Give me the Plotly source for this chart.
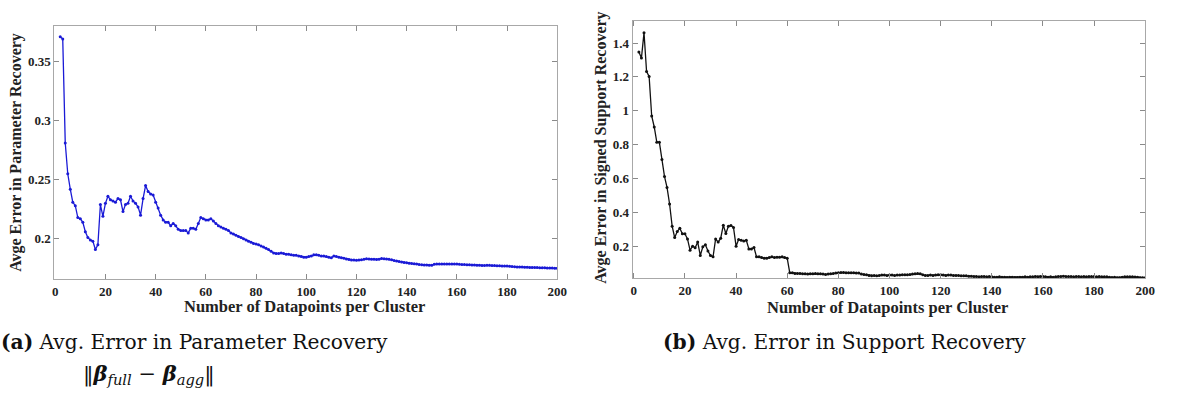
import plotly.graph_objects as go

# ---------------- data ----------------
x_vals = list(range(2, 201))

param_err = [
    0.371, 0.369, 0.281, 0.255, 0.242, 0.231, 0.228, 0.218, 0.217, 0.214,   # 2-11
    0.206, 0.201, 0.199, 0.198, 0.191, 0.195, 0.229, 0.219, 0.230, 0.236,   # 12-21
    0.233, 0.232, 0.231, 0.234, 0.233, 0.223, 0.229, 0.230, 0.236, 0.232,   # 22-31
    0.230, 0.227, 0.220, 0.234, 0.245, 0.240, 0.238, 0.237, 0.231, 0.226,   # 32-41
    0.220, 0.216, 0.214, 0.214, 0.211, 0.213, 0.211, 0.208, 0.207, 0.207,   # 42-51
    0.207, 0.205, 0.209, 0.209, 0.208, 0.213, 0.218, 0.217, 0.216, 0.216,   # 52-61
    0.217, 0.215, 0.213, 0.211, 0.210, 0.209, 0.208, 0.207, 0.205, 0.204,   # 62-71
    0.203, 0.202, 0.201, 0.200, 0.199, 0.198, 0.197, 0.196, 0.1955, 0.195,  # 72-81
    0.194, 0.193, 0.192, 0.191, 0.1895, 0.188, 0.1875, 0.1875, 0.188, 0.1875,  # 82-91
    0.187, 0.187, 0.1865, 0.186, 0.186, 0.1855, 0.185, 0.1845, 0.1845, 0.185,  # 92-101
    0.1855, 0.1865, 0.1865, 0.186, 0.1855, 0.1855, 0.185, 0.1845, 0.184, 0.1855,  # 102-111
    0.185, 0.1845, 0.184, 0.1835, 0.183, 0.1825, 0.182, 0.182, 0.1818, 0.182,  # 112-121
    0.1822, 0.1828, 0.1832, 0.183, 0.1828, 0.1826, 0.1824, 0.1828, 0.1834, 0.1832,  # 122-131
    0.183, 0.1826, 0.1822, 0.1816, 0.1812, 0.1808, 0.1804, 0.18, 0.1797, 0.1794,  # 132-141
    0.1791, 0.1789, 0.1786, 0.1783, 0.1781, 0.1779, 0.1778, 0.1777, 0.1777, 0.1784,  # 142-151
    0.1786, 0.1786, 0.1786, 0.1786, 0.1786, 0.1787, 0.1786, 0.1786, 0.1786, 0.1784,  # 152-161
    0.1783, 0.1782, 0.1781, 0.178, 0.1779, 0.1778, 0.1777, 0.1776, 0.1775, 0.1774,  # 162-171
    0.1776, 0.1776, 0.1775, 0.1774, 0.1773, 0.1772, 0.1771, 0.177, 0.1769, 0.1767,  # 172-181
    0.1765, 0.1764, 0.1762, 0.1761, 0.1761, 0.176, 0.1759, 0.1758, 0.1758, 0.1757,  # 182-191
    0.1757, 0.1756, 0.1755, 0.1755, 0.1754, 0.1753, 0.1752, 0.1751, 0.175,         # 192-200
]

support_err = [
    1.347, 1.312, 1.461, 1.231, 1.202, 0.969, 0.904, 0.814, 0.814, 0.712,   # 2-11
    0.612, 0.547, 0.449, 0.318, 0.251, 0.286, 0.306, 0.273, 0.273, 0.243,   # 12-21
    0.176, 0.200, 0.190, 0.224, 0.145, 0.196, 0.208, 0.171, 0.145, 0.137,   # 22-31
    0.243, 0.224, 0.247, 0.324, 0.275, 0.318, 0.322, 0.310, 0.200, 0.239,   # 32-41
    0.235, 0.231, 0.235, 0.184, 0.184, 0.192, 0.137, 0.137, 0.133, 0.129,   # 42-51
    0.129, 0.133, 0.137, 0.133, 0.135, 0.135, 0.137, 0.133, 0.129, 0.043,   # 52-61
    0.043, 0.039, 0.039, 0.039, 0.037, 0.037, 0.035, 0.037, 0.037, 0.039,   # 62-71
    0.037, 0.037, 0.035, 0.033, 0.035, 0.037, 0.039, 0.041, 0.043, 0.045,   # 72-81
    0.045, 0.043, 0.043, 0.043, 0.043, 0.041, 0.041, 0.035, 0.033, 0.031,   # 82-91
    0.027, 0.025, 0.027, 0.025, 0.027, 0.029, 0.029, 0.027, 0.029, 0.029,   # 92-101
    0.027, 0.029, 0.029, 0.031, 0.031, 0.031, 0.033, 0.035, 0.037, 0.039,   # 102-111
    0.037, 0.031, 0.027, 0.027, 0.029, 0.027, 0.029, 0.031, 0.031, 0.029,   # 112-121
    0.027, 0.029, 0.029, 0.027, 0.027, 0.027, 0.025, 0.025, 0.025, 0.023,   # 122-131
    0.023, 0.021, 0.021, 0.019, 0.021, 0.021, 0.019, 0.021, 0.019, 0.017,   # 132-141
    0.017, 0.019, 0.017, 0.017, 0.015, 0.017, 0.017, 0.015, 0.015, 0.017,   # 142-151
    0.017, 0.019, 0.017, 0.019, 0.019, 0.021, 0.019, 0.021, 0.021, 0.019,   # 152-161
    0.017, 0.019, 0.017, 0.019, 0.021, 0.021, 0.023, 0.021, 0.021, 0.021,   # 162-171
    0.019, 0.021, 0.021, 0.019, 0.021, 0.019, 0.021, 0.021, 0.021, 0.019,   # 172-181
    0.021, 0.019, 0.019, 0.019, 0.017, 0.015, 0.016, 0.014, 0.014, 0.017,   # 182-191
    0.019, 0.019, 0.019, 0.019, 0.018, 0.016, 0.014, 0.014, 0.014,          # 192-200
]

x_ticks = [0, 20, 40, 60, 80, 100, 120, 140, 160, 180, 200]
left_yticks = [0.2, 0.25, 0.3, 0.35]
left_yticktext = ["0.2", "0.25", "0.3", "0.35"]
right_yticks = [0.2, 0.4, 0.6, 0.8, 1.0, 1.2, 1.4]
right_yticktext = ["0.2", "0.4", "0.6", "0.8", "1", "1.2", "1.4"]

x_label = "Number of Datapoints per Cluster"
left_ylabel = "Avge Error in Parameter Recovery"
right_ylabel = "Avge Error in Signed Support Recovery"
caption_a = "<b>(a)</b> Avg. Error in Parameter Recovery"
caption_a2 = "‖<b><i>β</i></b><sub><i>full</i></sub> − <b><i>β</i></b><sub><i>agg</i></sub>‖"
caption_b = "<b>(b)</b> Avg. Error in Support Recovery"

# ---------------- figure ----------------
W, H = 1177, 396
SERIF = "Liberation Serif"
CAP_SERIF = "DejaVu Serif"

fig = go.Figure()
fig.add_trace(go.Scatter(
    x=x_vals, y=param_err, mode="lines+markers",
    line=dict(color="#1a1ad6", width=1.3),
    marker=dict(color="#1a1ad6", size=3),
    xaxis="x", yaxis="y", showlegend=False,
))
fig.add_trace(go.Scatter(
    x=x_vals, y=support_err, mode="lines+markers",
    line=dict(color="#111111", width=1.3),
    marker=dict(color="#111111", size=3),
    xaxis="x2", yaxis="y2", showlegend=False,
))

tickfont = dict(family=SERIF, size=13, color="#222222", weight="bold")
axis_common = dict(
    showline=True, linecolor="#a8a8a8", linewidth=1, mirror="ticks",
    ticks="inside", ticklen=5, tickcolor="#8a8a8a", tickwidth=1,
    showgrid=False, zeroline=False, tickfont=tickfont,
)

def px_x(p):
    return p / W

def px_y(p):
    return 1 - p / H

fig.update_layout(
    width=W, height=H,
    margin=dict(l=0, r=0, t=0, b=0),
    paper_bgcolor="white", plot_bgcolor="white",
    xaxis=dict(domain=[px_x(53), px_x(561)], range=[-0.3, 200], tickvals=x_ticks,
               anchor="y", **axis_common),
    yaxis=dict(domain=[px_y(279), px_y(26)], range=[0.166, 0.380],
               tickvals=left_yticks, ticktext=left_yticktext, anchor="x", **axis_common),
    xaxis2=dict(domain=[px_x(637), px_x(1155)], range=[-0.5, 200], tickvals=x_ticks,
                anchor="y2", **axis_common),
    yaxis2=dict(domain=[px_y(278), px_y(21)], range=[0.012, 1.53],
                tickvals=right_yticks, ticktext=right_yticktext, anchor="x2", **axis_common),
)

xlabel_font = dict(family=SERIF, size=16.5, color="#222222")
ylabel_font = dict(family=SERIF, size=16, color="#222222")
cap_font = dict(family=CAP_SERIF, size=20.2, color="#111111")
cap2_font = dict(family=CAP_SERIF, size=21, color="#111111")

annotations = [
    dict(text="<b>" + x_label + "</b>", x=px_x(306), y=px_y(306), xref="paper", yref="paper",
         xanchor="center", yanchor="middle", showarrow=False, font=xlabel_font),
    dict(text="<b>" + x_label + "</b>", x=px_x(895), y=px_y(307), xref="paper", yref="paper",
         xanchor="center", yanchor="middle", showarrow=False, font=xlabel_font),
    dict(text="<b>" + left_ylabel + "</b>", x=px_x(14), y=px_y(152), xref="paper", yref="paper",
         xanchor="center", yanchor="middle", showarrow=False, textangle=-90, font=ylabel_font),
    dict(text="<b>" + right_ylabel + "</b>", x=px_x(605), y=px_y(148), xref="paper", yref="paper",
         xanchor="center", yanchor="middle", showarrow=False, textangle=-90, font=ylabel_font),
    dict(text=caption_a, x=px_x(-3), y=px_y(342), xref="paper", yref="paper",
         xanchor="left", yanchor="middle", showarrow=False, font=cap_font),
    dict(text=caption_a2, x=px_x(80), y=px_y(374), xref="paper", yref="paper",
         xanchor="left", yanchor="middle", showarrow=False, font=cap2_font),
    dict(text=caption_b, x=px_x(666), y=px_y(342), xref="paper", yref="paper",
         xanchor="left", yanchor="middle", showarrow=False, font=cap_font),
]
fig.update_layout(annotations=annotations)

fig.write_html("out.html")
